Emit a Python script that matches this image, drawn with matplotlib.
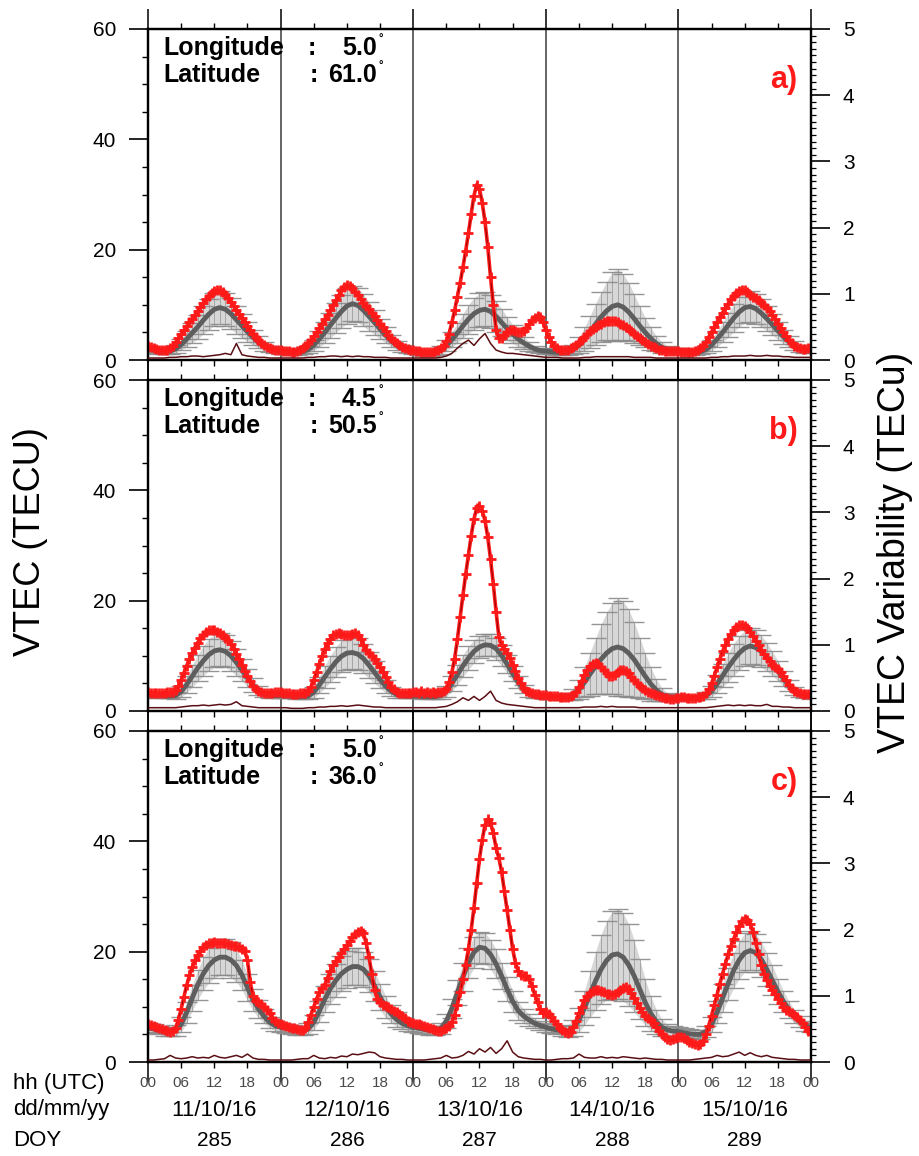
import numpy as np
import matplotlib
matplotlib.use("Agg")
import matplotlib.pyplot as plt
from matplotlib.ticker import MultipleLocator
import matplotlib.transforms as mtransforms

plt.rcParams['font.family'] = ['Liberation Sans', 'DejaVu Sans']

# ---------------- labels ----------------
day_labels = ['11/10/16', '12/10/16', '13/10/16', '14/10/16', '15/10/16']
doy_labels = ['285', '286', '287', '288', '289']
hour_labels = ['00', '06', '12', '18'] * 5 + ['00']
panel_letters = ['a)', 'b)', 'c)']
longitudes = ['5.0', '4.5', '5.0']
latitudes = ['61.0', '50.5', '36.0']

# ---------------- panel a (30-min observed VTEC, per day) ----------------
red_a = [
    [2.5,2.3,2.2,2.0, 1.9,1.8,1.8,1.9, 2.2,2.6,3.2,3.9, 4.7,5.4,6.1,6.8, 7.5,8.2,8.9,9.6, 10.3,11.0,11.6,12.1,
     12.5,12.7,12.6,12.3, 11.8,11.2,10.5,9.8, 9.0,8.3,7.6,6.9, 6.2,5.5,4.8,4.2, 3.6,3.1,2.7,2.4, 2.2,2.0,1.9,1.8],
    [1.8,1.7,1.6,1.6, 1.5,1.5,1.6,1.8, 2.1,2.5,3.0,3.6, 4.3,5.0,5.8,6.6, 7.4,8.2,9.0,9.9, 10.8,11.7,12.6,13.3,
     13.6,13.4,13.0,12.4, 11.7,11.0,10.4,9.8, 9.2,8.6,8.0,7.3, 6.6,5.9,5.2,4.5, 3.9,3.4,3.0,2.7, 2.4,2.2,2.0,1.9],
    [1.8,1.7,1.6,1.5, 1.4,1.4,1.4,1.5, 1.6,1.8,2.1,2.6, 3.4,4.8,6.8,9.0, 11.5,14.0,16.8,19.8, 23.0,26.5,29.8,31.8,
     31.0,28.5,25.0,20.5, 15.0,10.0,5.5,4.0, 4.0,4.5,5.0,5.4, 5.5,5.2,5.0,5.0, 5.2,5.8,6.5,7.2, 7.6,8.0,7.8,6.8],
    [5.5,4.2,3.2,2.5, 2.1,1.9,1.8,1.8, 1.9,2.1,2.4,2.8, 3.2,3.7,4.2,4.7, 5.2,5.6,6.0,6.3, 6.6,6.8,7.0,7.1,
     7.1,7.0,6.8,6.6, 6.3,6.0,5.6,5.2, 4.8,4.4,4.0,3.6, 3.2,2.9,2.6,2.3, 2.1,1.9,1.8,1.7, 1.6,1.6,1.6,1.6],
    [1.6,1.5,1.5,1.5, 1.5,1.5,1.6,1.8, 2.1,2.6,3.3,4.2, 5.1,6.0,6.9,7.8, 8.6,9.4,10.2,11.0, 11.6,12.1,12.5,12.7,
     12.6,12.3,11.8,11.5, 11.2,10.8,10.4,10.0, 9.5,8.9,8.2,7.4, 6.6,5.8,5.0,4.3, 3.6,3.1,2.6,2.3, 2.1,2.0,2.0,2.1],
]
red_a_end = 2.2

mean_a = [
    [2.0,1.8,1.6,1.5,1.6,2.0,2.8,3.8,4.9,6.0,7.2,8.3,9.2,9.5,9.2,8.4,7.3,6.2,5.1,4.1,3.2,2.5,2.0,1.8],
    [1.6,1.5,1.4,1.4,1.5,1.9,2.7,3.8,5.0,6.3,7.6,8.8,9.8,10.2,9.9,9.0,7.9,6.8,5.6,4.5,3.5,2.7,2.1,1.8],
    [1.5,1.4,1.3,1.3,1.4,1.8,2.6,3.7,4.9,6.2,7.4,8.4,9.0,9.2,8.8,7.9,6.8,5.7,4.7,3.8,3.1,2.5,2.0,1.7],
    [1.6,1.5,1.4,1.4,1.5,1.9,2.7,3.8,5.1,6.5,7.8,8.9,9.7,10.0,9.6,8.7,7.5,6.2,5.0,3.9,3.0,2.3,1.9,1.7],
    [1.6,1.5,1.4,1.4,1.5,1.9,2.7,3.8,5.0,6.3,7.6,8.7,9.5,9.7,9.3,8.5,7.5,6.4,5.3,4.2,3.3,2.6,2.1,1.8],
]
mean_a_end = 1.7
std_a = [
    [0.5,0.5,0.5,0.5,0.5,0.7,1.0,1.4,1.8,2.2,2.5,2.8,3.0,3.0,3.0,2.8,2.5,2.2,1.8,1.4,1.1,0.8,0.6,0.5],
    [0.5,0.5,0.5,0.5,0.5,0.7,1.0,1.5,1.9,2.3,2.7,3.0,3.2,3.2,3.1,2.9,2.6,2.2,1.8,1.4,1.1,0.8,0.6,0.5],
    [0.5,0.5,0.5,0.5,0.5,0.7,1.0,1.4,1.8,2.2,2.6,2.9,3.1,3.1,3.0,2.8,2.5,2.1,1.7,1.4,1.1,0.8,0.6,0.5],
    [0.5,0.5,0.5,0.5,0.6,0.9,1.4,2.1,2.9,3.7,4.5,5.3,6.2,6.5,6.0,5.3,4.4,3.5,2.7,2.0,1.4,1.0,0.7,0.5],
    [0.5,0.5,0.5,0.5,0.5,0.7,1.0,1.4,1.8,2.2,2.5,2.7,2.8,2.8,2.7,2.5,2.2,1.9,1.6,1.3,1.0,0.8,0.6,0.5],
]
std_a_end = 0.5
var_a = [
    [0.03,0.03,0.03,0.03,0.04,0.04,0.05,0.05,0.06,0.06,0.05,0.06,0.07,0.08,0.10,0.08,0.25,0.08,0.06,0.05,0.04,0.04,0.03,0.03],
    [0.03,0.03,0.03,0.03,0.03,0.04,0.04,0.05,0.05,0.06,0.06,0.05,0.06,0.05,0.06,0.05,0.05,0.04,0.04,0.04,0.03,0.03,0.03,0.03],
    [0.03,0.03,0.03,0.03,0.03,0.04,0.06,0.10,0.18,0.25,0.30,0.22,0.32,0.40,0.25,0.15,0.12,0.10,0.10,0.09,0.08,0.07,0.06,0.05],
    [0.04,0.04,0.04,0.03,0.03,0.03,0.03,0.04,0.04,0.05,0.05,0.05,0.05,0.05,0.05,0.05,0.04,0.04,0.04,0.04,0.03,0.03,0.03,0.03],
    [0.03,0.03,0.03,0.03,0.03,0.03,0.04,0.04,0.05,0.05,0.06,0.06,0.06,0.07,0.06,0.06,0.07,0.06,0.06,0.05,0.05,0.04,0.04,0.04],
]
var_a_end = 0.04

# ---------------- panel b ----------------
red_b = [
    [3.4,3.3,3.3,3.2, 3.2,3.2,3.3,3.4, 3.4,3.5,3.8,4.5, 5.6,6.9,8.2,9.4, 10.5,11.5,12.4,13.2, 13.8,14.3,14.6,14.7,
     14.6,14.4,14.1,13.7, 13.3,12.8,12.1,11.3, 10.4,9.4,8.4,7.3, 6.3,5.4,4.6,4.0, 3.6,3.4,3.3,3.3, 3.3,3.3,3.4,3.4],
    [3.4,3.3,3.2,3.2, 3.1,3.1,3.1,3.2, 3.2,3.3,3.6,4.4, 5.6,7.0,8.5,9.9, 11.2,12.3,13.1,13.7, 14.0,14.1,14.0,13.8,
     13.7,13.8,14.0,14.1, 13.8,13.0,12.0,11.0, 10.6,10.0,9.4,8.7, 7.9,7.0,6.1,5.2, 4.4,3.9,3.5,3.3, 3.3,3.3,3.3,3.3],
    [3.4,3.5,3.3,3.6, 3.3,3.5,3.2,3.4, 3.3,3.5,3.4,3.6, 4.0,5.2,7.0,9.5, 13.0,17.0,21.0,24.8, 28.3,31.8,34.8,36.8,
     37.2,36.3,34.5,31.5, 27.5,23.0,18.0,13.5, 12.0,11.3,10.6,9.6, 8.4,7.2,6.0,5.0, 4.2,3.7,3.4,3.2, 3.1,3.0,2.9,2.9],
    [2.9,2.8,2.8,2.7, 2.7,2.6,2.6,2.6, 2.6,2.7,2.9,3.4, 4.3,5.4,6.5,7.5, 8.2,8.6,8.7,8.5, 8.0,7.4,6.8,6.4,
     6.3,6.5,7.0,7.4, 7.4,7.2,6.8,6.2, 5.6,5.0,4.5,4.1, 3.8,3.5,3.3,3.1, 2.9,2.7,2.5,2.4, 2.3,2.2,2.2,2.3],
    [2.4,2.5,2.5,2.4, 2.4,2.4,2.4,2.5, 2.6,2.8,3.2,3.9, 5.0,6.4,7.9,9.4, 10.8,12.0,13.1,14.0, 14.7,15.2,15.5,15.6,
     15.4,15.0,14.4,13.6, 12.7,11.9,11.1,10.3, 9.6,9.0,8.4,8.0, 7.6,7.1,6.4,5.6, 4.8,4.2,3.7,3.4, 3.2,3.1,3.0,3.0],
]
red_b_end = 3.0

mean_b = [
    [2.9,2.8,2.8,2.7,2.7,2.8,3.5,4.8,6.3,7.8,9.1,10.2,10.9,11.1,10.8,10.0,8.8,7.4,6.0,4.7,3.7,3.1,2.9,2.8],
    [2.8,2.7,2.7,2.6,2.6,2.7,3.4,4.7,6.2,7.6,8.9,9.9,10.5,10.6,10.3,9.5,8.3,7.0,5.7,4.5,3.6,3.0,2.8,2.7],
    [2.7,2.7,2.6,2.6,2.6,2.8,3.6,5.0,6.6,8.2,9.6,10.8,11.6,12.0,11.9,11.3,10.1,8.5,6.8,5.2,4.0,3.2,2.8,2.7],
    [2.6,2.5,2.5,2.5,2.6,3.0,3.9,5.2,6.7,8.1,9.4,10.5,11.3,11.6,11.3,10.5,9.3,7.8,6.3,4.9,3.8,3.0,2.6,2.5],
    [2.5,2.4,2.4,2.4,2.5,2.8,3.6,4.9,6.4,7.9,9.3,10.5,11.4,11.8,11.5,10.8,9.8,8.6,7.3,5.9,4.6,3.6,3.0,2.7],
]
mean_b_end = 2.6
std_b = [
    [0.4,0.4,0.4,0.4,0.4,0.6,1.0,1.5,2.0,2.4,2.7,2.9,3.0,3.0,2.9,2.7,2.4,2.0,1.6,1.2,0.8,0.6,0.5,0.4],
    [0.4,0.4,0.4,0.4,0.4,0.6,1.0,1.5,2.0,2.4,2.7,2.9,3.0,3.0,2.9,2.7,2.4,2.0,1.6,1.2,0.8,0.6,0.5,0.4],
    [0.4,0.4,0.4,0.4,0.4,0.6,1.0,1.4,1.8,2.0,2.1,2.1,2.0,2.0,2.0,2.0,1.9,1.7,1.4,1.1,0.8,0.6,0.5,0.4],
    [0.4,0.4,0.4,0.5,0.6,1.0,1.7,2.7,3.9,5.1,6.3,7.4,8.3,8.8,8.6,7.9,6.8,5.5,4.2,3.0,2.0,1.2,0.7,0.5],
    [0.4,0.4,0.4,0.4,0.4,0.6,1.0,1.6,2.1,2.6,2.9,3.1,3.2,3.2,3.1,2.9,2.6,2.2,1.8,1.4,1.0,0.7,0.5,0.4],
]
std_b_end = 0.4
var_b = [
    [0.05,0.05,0.05,0.05,0.05,0.05,0.06,0.07,0.08,0.08,0.09,0.08,0.09,0.10,0.09,0.10,0.14,0.08,0.07,0.06,0.05,0.05,0.05,0.05],
    [0.05,0.05,0.04,0.04,0.04,0.05,0.05,0.06,0.06,0.07,0.07,0.08,0.07,0.08,0.09,0.08,0.07,0.06,0.06,0.05,0.05,0.05,0.05,0.05],
    [0.05,0.05,0.05,0.05,0.05,0.06,0.07,0.10,0.14,0.20,0.16,0.22,0.16,0.22,0.30,0.16,0.12,0.10,0.09,0.08,0.07,0.06,0.05,0.05],
    [0.05,0.05,0.05,0.05,0.05,0.05,0.05,0.06,0.06,0.06,0.07,0.06,0.07,0.06,0.06,0.06,0.06,0.05,0.05,0.05,0.05,0.05,0.05,0.05],
    [0.05,0.05,0.05,0.05,0.05,0.05,0.06,0.07,0.08,0.09,0.08,0.09,0.08,0.09,0.08,0.08,0.10,0.07,0.07,0.06,0.06,0.05,0.05,0.05],
]
var_b_end = 0.05

# ---------------- panel c ----------------
red_c = [
    [6.8,6.7,6.6,6.4, 6.2,6.0,5.8,5.6, 5.5,5.6,6.2,7.6, 9.6,11.8,13.9,15.7, 17.2,18.4,19.4,20.2, 20.8,21.2,21.5,21.6,
     21.7,21.6,21.5,21.6, 21.5,21.3,21.2,21.0, 21.0,20.8,20.5,20.2, 18.5,14.5,12.0,11.0, 10.8,10.5,10.0,9.5, 8.8,8.0,7.4,7.0],
    [6.8,6.7,6.5,6.4, 6.2,6.1,6.0,5.8, 5.8,6.2,7.2,8.6, 10.0,11.4,12.6,13.4, 14.0,15.3,16.5,17.5, 18.3,19.0,19.7,20.5,
     21.2,21.9,22.6,23.2, 23.6,23.8,23.3,21.5, 19.0,16.0,13.0,11.5, 10.8,10.4,10.2,9.9, 9.6,9.3,9.0,8.7, 8.3,7.9,7.5,7.2],
    [7.0,6.9,6.8,6.7, 6.6,6.4,6.2,6.0, 5.8,5.7,5.7,6.0, 6.2,6.6,7.3,8.6, 10.4,12.6,15.0,17.6, 20.5,24.0,28.0,32.5,
     36.8,40.3,43.0,44.0, 43.3,41.5,38.8,37.0, 34.5,31.0,27.5,24.0, 20.5,18.0,16.5,15.8, 15.6,15.6,15.0,13.8, 12.2,10.8,9.6,8.8],
    [9.0,8.7,8.2,7.5, 6.8,6.2,5.8,5.5, 5.3,5.5,6.3,7.5, 8.8,10.0,11.2,12.0, 12.5,12.8,13.0,13.0, 12.8,12.6,12.4,12.3,
     12.2,12.3,12.6,13.0, 13.5,13.6,13.2,12.5, 11.6,10.7,9.8,9.0, 8.4,7.9,7.5,7.0, 6.3,5.6,5.0,4.5, 4.1,4.0,4.1,4.3],
    [4.6,4.5,4.3,4.0, 3.7,3.4,3.2,3.1, 3.2,3.8,5.0,6.6, 8.4,10.3,12.2,14.2, 16.0,17.8,19.5,21.0, 22.3,23.5,24.6,25.5,
     26.0,25.8,25.0,23.6, 21.6,19.5,17.6,16.0, 14.8,13.8,13.0,12.3, 11.5,10.7,10.0,9.5, 9.2,8.9,8.6,8.2, 7.6,7.0,6.3,5.7],
]
red_c_end = 5.2

mean_c = [
    [6.2,6.0,5.8,5.6,5.5,5.7,6.8,9.0,11.6,14.0,16.0,17.5,18.5,19.0,19.0,18.5,17.5,15.8,13.5,11.3,9.6,8.3,7.2,6.6],
    [6.3,6.1,5.9,5.7,5.7,6.0,7.2,9.2,11.4,13.3,14.8,16.0,16.8,17.3,17.3,16.8,15.6,13.8,11.8,10.0,8.7,7.7,7.0,6.6],
    [6.3,6.1,5.9,5.7,5.7,6.1,7.4,9.7,12.6,15.4,18.0,19.9,20.8,20.6,19.5,17.8,15.6,13.2,11.0,9.3,8.3,7.6,7.0,6.6],
    [6.3,6.0,5.8,5.6,5.6,6.2,7.6,9.8,12.3,14.7,16.8,18.4,19.4,19.6,19.0,17.6,15.6,13.2,10.8,8.8,7.3,6.3,5.8,5.6],
    [5.5,5.3,5.1,5.0,5.0,5.5,6.8,9.0,11.6,14.2,16.6,18.5,19.8,20.2,19.8,18.6,16.8,14.8,12.8,11.0,9.5,8.3,7.3,6.6],
]
mean_c_end = 6.2
std_c = [
    [0.8,0.8,0.8,0.8,0.8,1.0,1.4,1.9,2.3,2.7,3.0,3.2,3.3,3.3,3.3,3.2,3.0,2.7,2.4,2.0,1.6,1.3,1.0,0.9],
    [0.8,0.8,0.8,0.8,0.8,1.0,1.4,1.9,2.3,2.7,3.0,3.2,3.3,3.3,3.3,3.2,3.0,2.7,2.4,2.0,1.6,1.3,1.0,0.9],
    [0.8,0.8,0.8,0.8,0.8,1.0,1.3,1.8,2.2,2.5,2.7,2.8,2.8,2.8,2.7,2.6,2.4,2.2,1.9,1.6,1.3,1.1,0.9,0.8],
    [0.8,0.8,0.8,0.9,1.1,1.5,2.2,3.1,4.2,5.3,6.3,7.2,7.9,8.2,8.0,7.4,6.5,5.4,4.2,3.1,2.2,1.5,1.0,0.9],
    [0.8,0.8,0.8,0.8,0.8,1.0,1.4,2.0,2.5,2.9,3.2,3.4,3.5,3.5,3.4,3.2,3.0,2.7,2.3,1.9,1.5,1.2,1.0,0.9],
]
std_c_end = 0.8
var_c = [
    [0.03,0.03,0.04,0.05,0.10,0.06,0.05,0.06,0.08,0.06,0.07,0.06,0.10,0.07,0.06,0.08,0.10,0.07,0.12,0.06,0.04,0.04,0.03,0.03],
    [0.03,0.03,0.03,0.04,0.05,0.05,0.10,0.06,0.05,0.07,0.06,0.09,0.08,0.12,0.11,0.13,0.15,0.14,0.08,0.06,0.05,0.04,0.04,0.03],
    [0.03,0.03,0.03,0.04,0.05,0.06,0.10,0.06,0.07,0.10,0.16,0.12,0.20,0.15,0.22,0.13,0.20,0.32,0.15,0.08,0.06,0.05,0.04,0.04],
    [0.03,0.03,0.04,0.05,0.05,0.06,0.12,0.07,0.06,0.06,0.08,0.06,0.07,0.06,0.08,0.07,0.06,0.05,0.06,0.05,0.04,0.04,0.03,0.03],
    [0.03,0.03,0.03,0.04,0.05,0.06,0.07,0.10,0.08,0.09,0.12,0.15,0.10,0.14,0.10,0.08,0.10,0.07,0.06,0.05,0.04,0.04,0.03,0.03],
]
var_c_end = 0.03


def flat(days, end):
    return np.array([v for d in days for v in d] + [end], dtype=float)


panels = [
    (flat(red_a, red_a_end), flat(mean_a, mean_a_end), flat(std_a, std_a_end), flat(var_a, var_a_end)),
    (flat(red_b, red_b_end), flat(mean_b, mean_b_end), flat(std_b, std_b_end), flat(var_b, var_b_end)),
    (flat(red_c, red_c_end), flat(mean_c, mean_c_end), flat(std_c, std_c_end), flat(var_c, var_c_end)),
]

W, H = 920, 1156
fig = plt.figure(figsize=(W / 100, H / 100), dpi=100)

ax_left = 148 / W
ax_width = (811 - 148) / W
tops = [29, 380, 731]
ph = 331

RED = '#ff1a1a'
axes = []
for i, (red, mean, std, var) in enumerate(panels):
    top = tops[i]
    ax = fig.add_axes([ax_left, 1 - (top + ph) / H, ax_width, ph / H])
    axes.append(ax)
    t_red = np.arange(len(red)) * 0.5
    t_hr = np.arange(len(mean)) * 1.0

    ax.set_xlim(0, 120)
    ax.set_ylim(0, 60)

    for d in range(1, 5):
        ax.axvline(24 * d, color='#3a3a3a', lw=1.1, zorder=1)

    ax.fill_between(t_hr, mean - std, mean + std, color='#a8a8a8', alpha=0.45, lw=0, zorder=2)
    ax.errorbar(t_hr, mean, yerr=std, fmt='none', ecolor='#8a8a8a', elinewidth=0.5,
                capsize=7, capthick=1.0, alpha=0.9, zorder=2)
    ax.plot(t_hr, mean, color='#5e5e5e', lw=3.5, zorder=3)

    ax.plot(t_red, red, color=RED, lw=2.6, zorder=4)
    ax.plot(t_red, red, color='#a00000', lw=0.8, marker='+', ms=7.5, mew=2.0,
            mec=RED, zorder=5)

    # ticks
    ax.set_yticks([0, 20, 40, 60])
    ax.yaxis.set_minor_locator(MultipleLocator(5))
    ax.set_xticks(np.arange(0, 121, 24))
    ax.xaxis.set_minor_locator(MultipleLocator(6))
    ax.tick_params(axis='y', which='major', direction='out', length=14, width=1.2,
                   labelsize=15, pad=9, left=True, right=False)
    ax.tick_params(axis='y', which='minor', direction='out', length=4, width=1.0,
                   left=True, right=False)
    ax.tick_params(axis='x', which='major', direction='out', length=14.5, width=1.1,
                   top=True, bottom=True, labelbottom=False, labeltop=False)
    ax.tick_params(axis='x', which='minor', direction='out', length=4, width=1.0,
                   top=True, bottom=True)
    for sp in ax.spines.values():
        sp.set_linewidth(1.6)

    ax2 = ax.twinx()
    ax2.set_ylim(0, 5)
    ax2.plot(t_hr, var, color='#5a0f14', lw=1.1, zorder=6)
    ax2.set_yticks(range(6))
    ax2.yaxis.set_minor_locator(MultipleLocator(0.1))
    ax2.tick_params(axis='y', which='major', direction='out', length=14, width=1.2,
                    labelsize=15, pad=9)
    ax2.tick_params(axis='y', which='minor', direction='out', length=3.5, width=0.9)
    for sp in ax2.spines.values():
        sp.set_linewidth(1.6)

    # location text
    fs = 18
    yb1 = 1 - 26 / ph
    yb2 = 1 - 53 / ph
    kw = dict(transform=ax.transAxes, fontsize=fs, fontweight='bold', va='baseline', zorder=10)
    ax.text(0.0226, yb1, 'Longitude', **kw)
    ax.text(0.2415, yb1, ':', **kw)
    ax.text(0.345, yb1, longitudes[i], ha='right', **kw)
    ax.text(0.2445, yb2, ':', **kw)
    ax.text(0.0226, yb2, 'Latitude', **kw)
    ax.text(0.345, yb2, latitudes[i], ha='right', **kw)
    for yb in (yb1, yb2):
        ax.text(0.348, yb + 0.040, '°', transform=ax.transAxes, fontsize=8,
                fontweight='bold', va='baseline', zorder=10)

    ax.text(0.980, 1 - 59 / ph, panel_letters[i], transform=ax.transAxes, color=RED,
            fontsize=22, fontweight='bold', ha='right', va='baseline', zorder=10)

# axis titles
fig.text(0.033, 1 - 542 / H, 'VTEC (TECU)', rotation=90, fontsize=26, ha='center', va='center')
fig.text(0.973, 1 - 552 / H, 'VTEC Variability (TECu)', rotation=90, fontsize=27,
         ha='center', va='center')

# bottom annotations
axc = axes[-1]
blend = mtransforms.blended_transform_factory(axc.transData, fig.transFigure)
y_hh = 1 - 1083 / H
y_dd = 1 - 1110 / H
y_doy = 1 - 1140 / H
for k, lab in enumerate(hour_labels):
    axc.text(6 * k, y_hh, lab, transform=blend, ha='center', va='center', fontsize=11,
             color='#4a4a4a', clip_on=False)
for k in range(5):
    axc.text(24 * k + 12, y_dd, day_labels[k], transform=blend, ha='center', va='center',
             fontsize=16, clip_on=False)
    axc.text(24 * k + 12, y_doy, doy_labels[k], transform=blend, ha='center', va='center',
             fontsize=15, clip_on=False)
fig.text(0.014, y_hh, 'hh (UTC)', fontsize=16, va='center')
fig.text(0.014, y_dd, 'dd/mm/yy', fontsize=16, va='center')
fig.text(0.014, y_doy, 'DOY', fontsize=16, va='center')

fig.savefig('out.png', dpi=100)
